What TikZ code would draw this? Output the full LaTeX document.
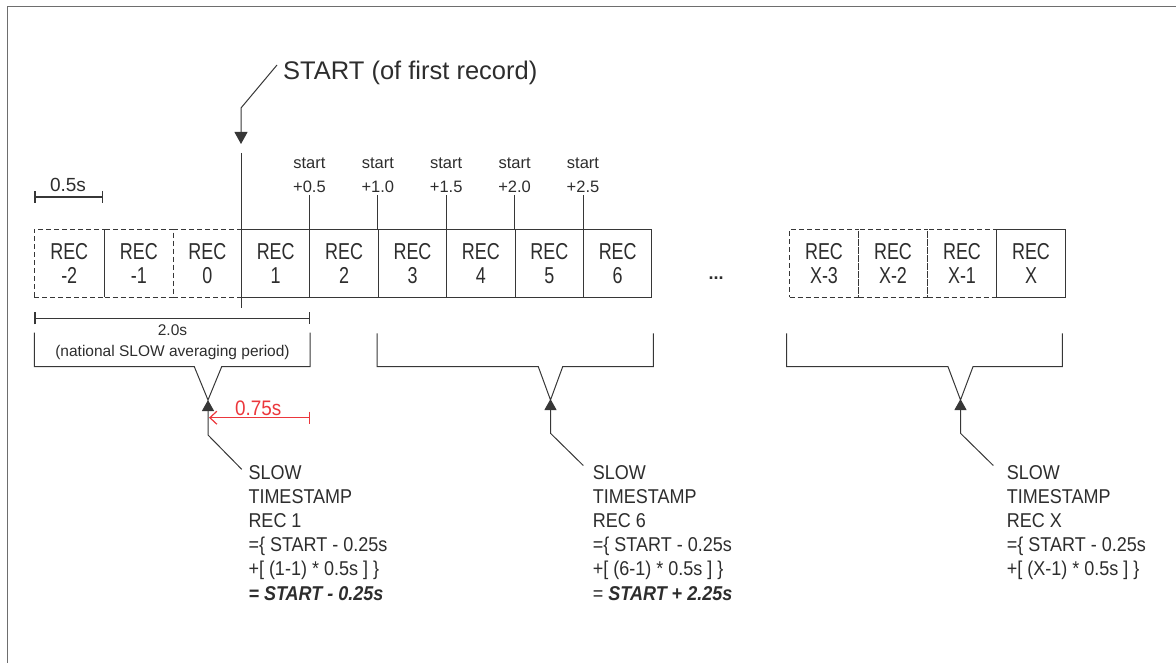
\documentclass[tikz,border=0pt]{standalone}
\usepackage{fontspec}
\setmainfont{Liberation Sans}
\newfontfamily\narrowfont{Liberation Sans}[FakeStretch=0.78]
\newfontfamily\slowfont{Liberation Sans}[FakeStretch=0.9]
\usetikzlibrary{arrows.meta,calc}
\definecolor{ink}{RGB}{45,45,45}
\definecolor{linegray}{RGB}{55,55,55}
\definecolor{framegray}{RGB}{110,110,110}
\definecolor{myred}{RGB}{235,55,60}
\tikzset{
  recbox/.style={draw=linegray, line width=1pt, minimum width=68.4pt, minimum height=68pt,
    inner sep=0pt, align=center, font=\narrowfont\fontsize{23}{24}\selectfont, text=ink, anchor=north west},
  ghostbox/.style={recbox, dash pattern=on 5pt off 3pt},
  startlbl/.style={font=\fontsize{16.5}{24}\selectfont, align=center, inner sep=0pt, anchor=south, text=ink},
  slowtext/.style={font=\slowfont\fontsize{20}{24.2}\selectfont, align=left, inner sep=0pt, anchor=north west, text=ink},
  conn/.style={draw=linegray, line width=1pt},
  ptr/.style={conn, -{Triangle[length=11pt,width=12pt]}},
  scalebar/.style={draw=linegray, line width=1.3pt, {Bar[width=12pt]}-{Bar[width=12pt]}},
  plainlbl/.style={inner sep=0pt, text=ink}
}
\begin{document}
\begin{tikzpicture}[x=1pt,y=-1pt]
\useasboundingbox (0,0) rectangle (1176,663);
% frame
\draw[framegray, line width=1pt] (7,663) -- (7,7) -- (1176,7);

% ghost boxes
\node[ghostbox, minimum width=70.5pt] (rm2) at (33.5,229) {REC\\-2};
\node[ghostbox, minimum width=68.6pt] (rm1) at (104,229) {REC\\-1};
\node[ghostbox] (r0) at (172.6,229) {REC\\0};
\node[ghostbox, minimum width=69pt] (rx3) at (789,229) {REC\\X-3};
\node[ghostbox, minimum width=69pt] (rx2) at (858,229) {REC\\X-2};
\node[ghostbox, minimum width=69pt] (rx1) at (927,229) {REC\\X-1};
% solid boxes
\node[recbox] (r1) at (241,229) {REC\\1};
\node[recbox] (r2) at (309.4,229) {REC\\2};
\node[recbox] (r3) at (377.8,229) {REC\\3};
\node[recbox] (r4) at (446.2,229) {REC\\4};
\node[recbox] (r5) at (514.6,229) {REC\\5};
\node[recbox] (r6) at (583,229) {REC\\6};
\node[recbox, minimum width=69pt] (rx) at (996,229) {REC\\X};

% ellipsis
\node[plainlbl, font=\bfseries\fontsize{18}{18}\selectfont] (dots) at (716,278.5) {...};

% start line
\coordinate (stop) at (241,153);
\coordinate (sbot) at (241,308);
\draw[conn] (stop) -- (sbot);

% START label and pointer
\node[plainlbl, font=\fontsize{25.5}{28}\selectfont, anchor=base west] (startlbl) at (283,80) {START (of first record)};
\coordinate (lead0) at (277,65);
\coordinate (lead1) at (241,108);
\coordinate (startpt) at (241,144);
\draw[conn, -{Triangle[length=12pt,width=13pt]}] (lead0) -- (lead1) -- (startpt);

% start + labels
\node[startlbl] (s1) at (309.4,193) {start\\+0.5};
\node[startlbl] (s2) at (377.8,193) {start\\+1.0};
\node[startlbl] (s3) at (446.2,193) {start\\+1.5};
\node[startlbl] (s4) at (514.6,193) {start\\+2.0};
\node[startlbl] (s5) at (583,193) {start\\+2.5};
\draw[conn] ([yshift=-2pt]s1.south) -- (s1.south |- r1.north east);
\draw[conn] ([yshift=-2pt]s2.south) -- (s2.south |- r2.north east);
\draw[conn] ([yshift=-2pt]s3.south) -- (s3.south |- r3.north east);
\draw[conn] ([yshift=-2pt]s4.south) -- (s4.south |- r4.north east);
\draw[conn] ([yshift=-2pt]s5.south) -- (s5.south |- r5.north east);

% 0.5s scale
\coordinate (h0) at (34.3,197);
\coordinate (h1) at (103.3,197);
\draw[scalebar] (h0) -- (h1);
\node[plainlbl, font=\fontsize{19}{22}\selectfont, anchor=base] (halfs) at (68,192) {0.5s};

% 2.0s scale
\coordinate (w0) at (34.3,318.3);
\coordinate (w1) at (310,318.3);
\draw[scalebar] (w0) -- (w1);
\node[plainlbl, font=\fontsize{15.5}{20}\selectfont, anchor=base] (twos) at (172.5,335) {2.0s};
\node[plainlbl, font=\fontsize{15.5}{20}\selectfont, anchor=base] (natl) at (172.5,356.7) {(national SLOW averaging period)};

% brackets
\draw[conn] (34.3,332.7) -- (34.3,366.7) -- (194.3,366.7) -- (208,400) -- (221.7,366.7) -- (310,366.7) -- (310,332.7);
\draw[conn] (377,333.3) -- (377,366.7) -- (538.3,366.7) -- (550.5,400) -- (562.7,366.7) -- (653.3,366.7) -- (653.3,333.3);
\draw[conn] (786.7,333.3) -- (786.7,366.7) -- (948,366.7) -- (960.5,400) -- (973,366.7) -- (1062.3,366.7) -- (1062.3,333.3);

% pointers to timestamps
\coordinate (ap1) at (208,400);
\coordinate (kn1) at (208,435);
\coordinate (tp1) at (241.7,469.3);
\coordinate (ap6) at (550.5,399);
\coordinate (kn6) at (550.5,433.3);
\coordinate (tp6) at (583.3,465.5);
\coordinate (apx) at (960.5,399);
\coordinate (knx) at (960.5,433.3);
\coordinate (tpx) at (993.3,465.5);
\draw[ptr] (tp1) -- (kn1) -- (ap1);
\draw[ptr] (tp6) -- (kn6) -- (ap6);
\draw[ptr] (tpx) -- (knx) -- (apx);

% red 0.75s
\coordinate (ra) at (209,417.7);
\coordinate (rb) at (310,417.7);
\draw[myred, line width=1.2pt, {Straight Barb[length=7pt,width=13pt]}-{Bar[width=12pt]}] (ra) -- (rb);
\node[plainlbl, text=myred, font=\slowfont\fontsize{21}{24}\selectfont, anchor=base] (t75) at (258.3,415.7) {0.75s};

% timestamp texts
\node[slowtext] (ts1) at (248.3,465) {SLOW\\TIMESTAMP\\REC 1\\=\{ START - 0.25s\\+[ (1-1) * 0.5s ] \}\\\textbf{\textit{= START - 0.25s}}};
\node[slowtext] (ts6) at (592.7,465) {SLOW\\TIMESTAMP\\REC 6\\=\{ START - 0.25s\\+[ (6-1) * 0.5s ] \}\\= \textbf{\textit{START + 2.25s}}};
\node[slowtext] (tsx) at (1006.7,465) {SLOW\\TIMESTAMP\\REC X\\=\{ START - 0.25s\\+[ (X-1) * 0.5s ] \}};
\end{tikzpicture}
\end{document}
